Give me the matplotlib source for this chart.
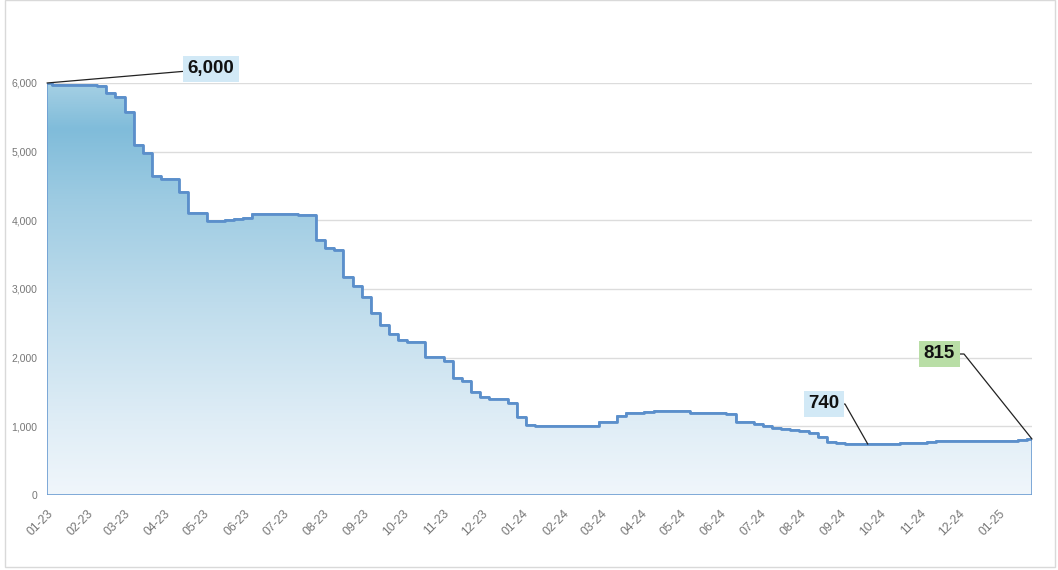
import numpy as np
import pandas as pd
import matplotlib
matplotlib.use("Agg")
import matplotlib.pyplot as plt
import matplotlib.dates as mdates
from matplotlib.patches import Polygon, Rectangle
from matplotlib.colors import LinearSegmentedColormap
from matplotlib.ticker import FuncFormatter

plt.rcParams['font.family'] = ['Liberation Sans', 'DejaVu Sans']

# weekly values, starting 2023-01-01
start_date = "2023-01-01"
values = [6000, 5970, 5970, 5970, 5970, 5970, 5960, 5850, 5800, 5580,
          5100, 4980, 4650, 4600, 4600, 4410, 4100, 4100, 3990, 3990,
          4010, 4020, 4040, 4090, 4090, 4090, 4090, 4090, 4080, 4080,
          3710, 3600, 3570, 3170, 3050, 2880, 2650, 2480, 2340, 2260,
          2230, 2230, 2010, 2010, 1950, 1710, 1660, 1500, 1420, 1400,
          1400, 1340, 1140, 1020, 1000, 1000, 1000, 1000, 1000, 1000,
          1000, 1060, 1060, 1150, 1195, 1200, 1210, 1220, 1220, 1220,
          1220, 1200, 1195, 1195, 1195, 1180, 1070, 1060, 1030, 1000,
          975, 960, 940, 930, 900, 840, 770, 760, 740, 740,
          740, 740, 740, 750, 760, 760, 760, 775, 790, 790,
          790, 790, 790, 790, 790, 790, 790, 800, 815]
dates = pd.date_range(start_date, periods=len(values), freq="7D")

# callouts: (index into series, label, box colour)
callouts = [(0, "6,000", "#d2e9f6"),
            (90, "740", "#d2e9f6"),
            (len(values) - 1, "815", "#b9dea6")]
callout_pos = [(211, 501), (824, 166), (939, 216)]  # figure pixels
callout_conn = ["arc3,rad=0",
                "arc,angleA=0,armA=21,rad=0",
                "arc,angleA=0,armA=25,rad=0"]

fig = plt.figure(figsize=(10.58, 5.70), dpi=100)
ax = fig.add_axes([47/1058, 75/570, 985/1058, 412/570])

x = mdates.date2num(dates)
v = np.array(values, dtype=float)

# step outline (mid)
mids = (x[:-1] + x[1:]) / 2
sx = np.concatenate([[x[0]], np.repeat(mids, 2), [x[-1]]])
sy = np.repeat(v, 2)
verts = [(x[0], 0)] + list(zip(sx, sy)) + [(x[-1], 0)]
poly = Polygon(verts, closed=True, facecolor="none", edgecolor="#6b9cd2", lw=1.2, zorder=2)
ax.add_patch(poly)

grad = LinearSegmentedColormap.from_list("fill", [
    (0.0, "#f0f6fb"), (0.18, "#dfedf6"), (0.47, "#bedcec"),
    (0.72, "#9dcbe2"), (0.89, "#80bcda"), (1.0, "#a5d0e4")])
img = ax.imshow(np.linspace(0, 1, 256).reshape(-1, 1), extent=[x[0], x[-1], 0, 6000],
                origin="lower", aspect="auto", cmap=grad, zorder=1)
img.set_clip_path(poly)

ax.plot(sx, sy, color="#5b8fcb", lw=2.0, zorder=3, solid_joinstyle="round")

ax.set_xlim(x[0], x[-1])
ax.set_ylim(0, 6000)
ax.set_yticks(range(0, 6001, 1000))
ax.yaxis.set_major_formatter(FuncFormatter(lambda val, p: f"{int(val):,}"))
ax.xaxis.set_major_locator(mdates.MonthLocator())
ax.xaxis.set_major_formatter(mdates.DateFormatter("%m-%y"))
ax.yaxis.grid(True, color="#dcdcdc", lw=1.0)
ax.set_axisbelow(True)
for s in ax.spines.values():
    s.set_visible(False)
ax.tick_params(axis="both", length=0, colors="#777777")
ax.tick_params(axis="y", pad=7, labelsize=7.5)
ax.tick_params(axis="x", pad=9, labelsize=8.8)
for lbl in ax.get_xticklabels():
    lbl.set_rotation(45)
    lbl.set_ha("right")
    lbl.set_va("top")
    lbl.set_rotation_mode("anchor")

for (idx, txt, col), pos, conn in zip(callouts, callout_pos, callout_conn):
    ax.annotate(txt, xy=(x[idx], v[idx]), xytext=pos, textcoords="figure pixels",
                ha="center", va="center", fontsize=13.5, fontweight="bold", color="#111111",
                bbox=dict(boxstyle="square,pad=0.26", fc=col, ec="none"),
                arrowprops=dict(arrowstyle="-", color="#222222", lw=0.9,
                                shrinkA=0, shrinkB=0, connectionstyle=conn),
                annotation_clip=False, zorder=5)

# outer frame
fig.add_artist(Rectangle((5/1058, 3/570), 1050/1058, 0.995, transform=fig.transFigure,
                         fill=False, ec="#d9d9d9", lw=1.0))

fig.savefig("out.png", dpi=100)
